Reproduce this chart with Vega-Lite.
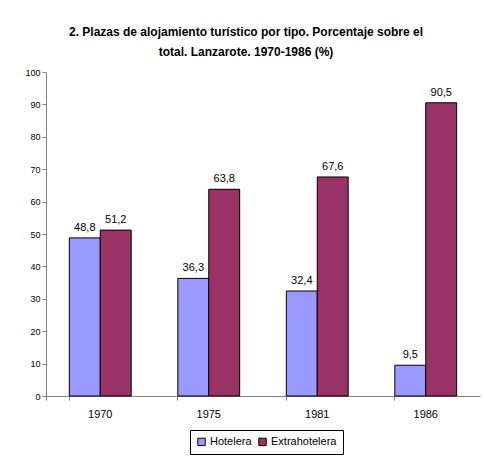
{
  "$schema": "https://vega.github.io/schema/vega-lite/v6.json",
  "width": 434,
  "height": 324,
  "autosize": {"type": "none"},
  "padding": {"left": 46, "top": 72, "right": 4, "bottom": 74},
  "background": "white",
  "config": {
    "font": "Liberation Sans",
    "view": {"stroke": null},
    "locale": {"number": {"decimal": ",", "thousands": ".", "grouping": [3], "currency": ["", " €"]}}
  },
  "title": {
    "text": ["2. Plazas de alojamiento turístico por tipo. Porcentaje sobre el", "total. Lanzarote. 1970-1986 (%)"],
    "fontSize": 12,
    "fontWeight": "bold",
    "color": "black",
    "anchor": "middle",
    "dx": -17,
    "lineHeight": 20,
    "offset": 9
  },
  "data": {
    "values": [
      {"year": "1970", "tipo": "Hotelera", "value": 48.8},
      {"year": "1970", "tipo": "Extrahotelera", "value": 51.2},
      {"year": "1975", "tipo": "Hotelera", "value": 36.3},
      {"year": "1975", "tipo": "Extrahotelera", "value": 63.8},
      {"year": "1981", "tipo": "Hotelera", "value": 32.4},
      {"year": "1981", "tipo": "Extrahotelera", "value": 67.6},
      {"year": "1986", "tipo": "Hotelera", "value": 9.5},
      {"year": "1986", "tipo": "Extrahotelera", "value": 90.5}
    ]
  },
  "encoding": {
    "x": {
      "field": "year", "type": "nominal",
      "scale": {"paddingInner": 0.43, "paddingOuter": 0.215},
      "axis": {
        "title": null, "labelAngle": 0, "labelFontSize": 11, "labelColor": "black",
        "labelPadding": 8, "bandPosition": 0, "tickExtra": true, "tickSize": 4,
        "tickColor": "#808080", "domainColor": "#808080"
      }
    },
    "xOffset": {"field": "tipo", "type": "nominal", "sort": ["Hotelera", "Extrahotelera"], "scale": {"paddingInner": 0, "paddingOuter": 0}},
    "y": {
      "field": "value", "type": "quantitative",
      "scale": {"domain": [0, 100], "nice": false},
      "axis": {
        "title": null, "values": [0,10,20,30,40,50,60,70,80,90,100], "grid": false,
        "labelFontSize": 9, "labelColor": "black", "tickSize": 4, "labelPadding": 2,
        "tickColor": "#808080", "domainColor": "#808080"
      }
    }
  },
  "layer": [
    {
      "mark": {"type": "bar", "stroke": "black", "strokeWidth": 1},
      "encoding": {
        "color": {
          "field": "tipo", "type": "nominal", "sort": ["Hotelera", "Extrahotelera"],
          "scale": {"domain": ["Hotelera", "Extrahotelera"], "range": ["#9999FF", "#993366"]},
          "legend": {
            "title": null, "orient": "none", "legendX": 144, "legendY": 358, "direction": "horizontal",
            "symbolType": "square", "symbolSize": 55, "symbolStrokeColor": "black", "symbolStrokeWidth": 1,
            "labelFontSize": 11, "labelColor": "black", "strokeColor": "black", "padding": 6,
            "columnPadding": 4, "labelOffset": 3
          }
        }
      }
    },
    {
      "mark": {"type": "text", "baseline": "bottom", "dy": -5, "fontSize": 11, "color": "black"},
      "encoding": {
        "text": {"field": "value", "type": "quantitative", "format": ".1f"}
      }
    }
  ]
}
